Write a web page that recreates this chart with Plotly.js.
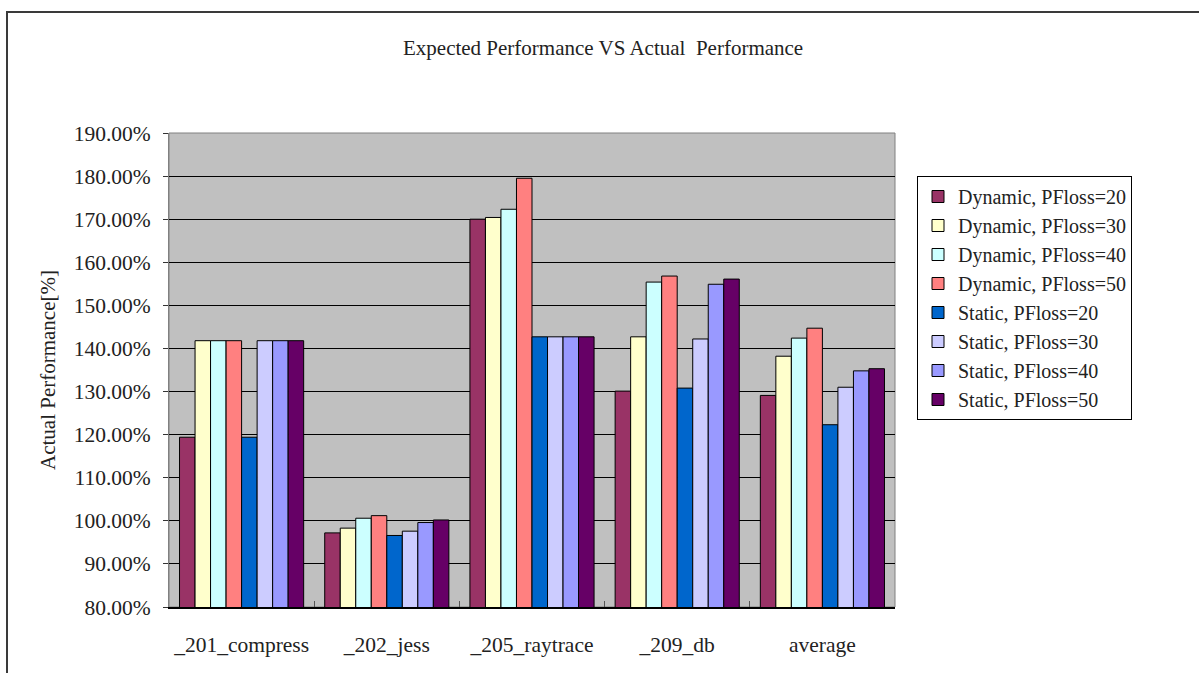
<!DOCTYPE html>
<html>
<head>
<meta charset="utf-8">
<script src="https://cdn.plot.ly/plotly-3.0.1.min.js"></script>
<style>
  html, body { margin: 0; padding: 0; background: #fff; overflow: hidden; }
  #chart { position: absolute; left: 0; top: 0; width: 1199px; height: 673px; }
  #frame { position: absolute; left: 6px; top: 11px; width: 1300px; height: 800px;
           border: 2px solid #3a3a3a; pointer-events: none; }
</style>
</head>
<body>
<div id="chart"></div>
<div id="frame"></div>
<script>
// Benchmarks on the category axis
const categories = ['_201_compress', '_202_jess', '_205_raytrace', '_209_db', 'average'];

// Actual performance in percent for each configuration
const dynamic20 = [119.4, 97.2, 170.0, 130.1, 129.1];
const dynamic30 = [141.8, 98.3, 170.4, 142.7, 138.2];
const dynamic40 = [141.8, 100.6, 172.3, 155.4, 142.4];
const dynamic50 = [141.8, 101.2, 179.5, 156.8, 144.7];
const static20  = [119.4, 96.6, 142.7, 130.8, 122.3];
const static30  = [141.8, 97.6, 142.7, 142.2, 131.0];
const static40  = [141.8, 99.6, 142.7, 154.9, 134.8];
const static50  = [141.8, 100.2, 142.7, 156.1, 135.3];

const seriesNames = [
  'Dynamic, PFloss=20', 'Dynamic, PFloss=30', 'Dynamic, PFloss=40', 'Dynamic, PFloss=50',
  'Static, PFloss=20', 'Static, PFloss=30', 'Static, PFloss=40', 'Static, PFloss=50'
];
const seriesValues = [dynamic20, dynamic30, dynamic40, dynamic50, static20, static30, static40, static50];
const seriesColors = ['#993366', '#FFFFCC', '#CCFFFF', '#FF8080', '#0066CC', '#CCCCFF', '#9999FF', '#660066'];

const FONT = 'Liberation Serif, DejaVu Serif, serif';
const TEXT = '#222';

const traces = seriesNames.map((name, i) => ({
  type: 'bar',
  name: name,
  x: categories,
  y: seriesValues[i],
  marker: { color: seriesColors[i], line: { color: '#000', width: 1 } },
  hoverinfo: 'x+y+name'
}));

const layout = {
  width: 1199,
  height: 673,
  paper_bgcolor: 'rgba(0,0,0,0)',
  plot_bgcolor: '#C0C0C0',
  margin: { l: 169, r: 304, t: 133, b: 66, pad: 0 },
  barmode: 'group',
  bargap: 0.145,
  bargroupgap: 0,
  showlegend: true,
  font: { family: FONT, color: TEXT, size: 20 },
  title: {
    text: 'Expected Performance VS Actual&nbsp; Performance',
    font: { family: FONT, size: 21, color: TEXT },
    x: 0.503, xref: 'container', xanchor: 'center',
    y: 1 - 48 / 673, yref: 'container', yanchor: 'middle'
  },
  xaxis: {
    type: 'category',
    showline: true, linecolor: '#000', linewidth: 1.5,
    ticks: 'inside', tickson: 'boundaries', ticklen: 6, tickcolor: '#555', tickwidth: 1,
    ticklabelstandoff: 18,
    tickfont: { family: FONT, size: 21.5, color: TEXT },
    showgrid: false, zeroline: false
  },
  yaxis: {
    range: [80, 190], dtick: 10, tick0: 80,
    tickformat: '.2f', ticksuffix: '%',
    ticks: 'outside', ticklen: 5, tickcolor: '#333',
    showgrid: true, gridcolor: '#000', gridwidth: 1,
    showline: true, linecolor: '#808080', linewidth: 1,
    zeroline: false,
    tickfont: { family: FONT, size: 21.5, color: TEXT },
    ticklabelstandoff: 8,
    title: { text: 'Actual Performance[%]', font: { family: FONT, size: 21, color: TEXT }, standoff: 12 }
  },
  legend: {
    x: (917 - 169) / 726, xanchor: 'left',
    y: (607 - 176) / 474, yanchor: 'top',
    bgcolor: '#fff', bordercolor: '#000', borderwidth: 1,
    font: { family: FONT, size: 20, color: TEXT },
    traceorder: 'normal',
    itemwidth: 30
  },
  shapes: [{
    type: 'rect', xref: 'paper', yref: 'paper', x0: 0, x1: 1, y0: 0, y1: 1,
    line: { color: '#808080', width: 1 }, layer: 'below'
  }]
};

Plotly.newPlot('chart', traces, layout, { displayModeBar: false, staticPlot: true });
</script>
</body>
</html>
